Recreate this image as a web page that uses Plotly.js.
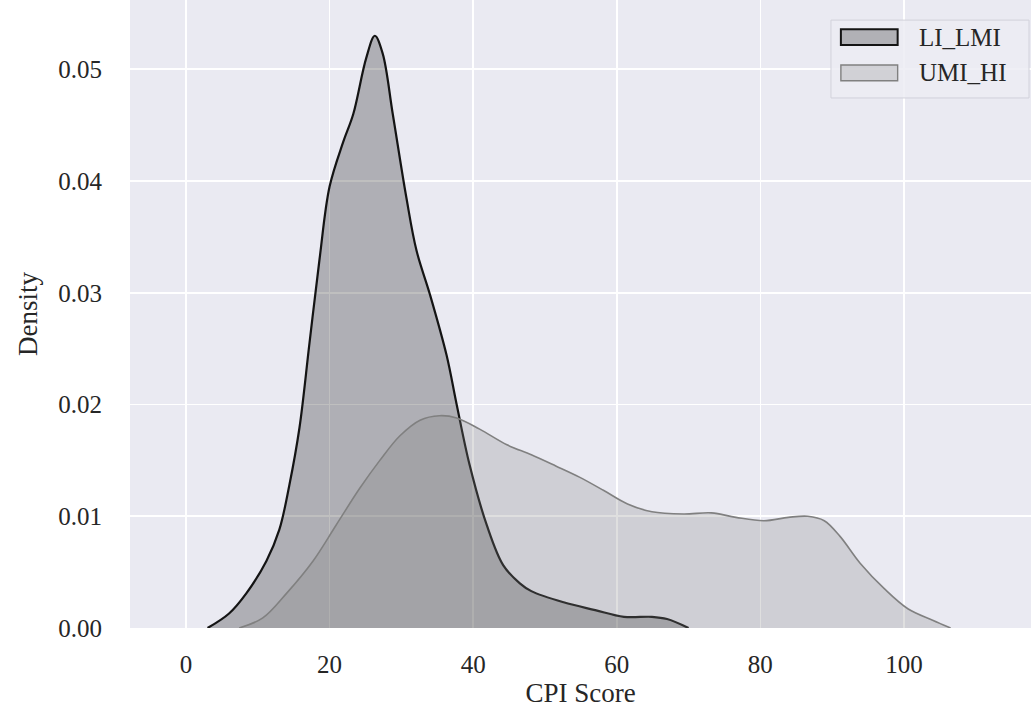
<!DOCTYPE html>
<html>
<head>
<meta charset="utf-8">
<script src="https://cdn.plot.ly/plotly-3.0.1.min.js"></script>
<style>html,body{margin:0;padding:0;background:#fff;}#chart{width:1032px;height:711px;}</style>
</head>
<body>
<div id="chart"></div>
<script>
// LI_LMI density curve (CPI score, density)
const liX = [3.0, 6.0, 8.4, 11.2, 13.0, 14.4, 15.8, 17.2, 18.6, 20.0, 21.9, 23.3, 25.1, 26.3, 27.4, 28.8, 30.7, 32.1, 34.0, 36.3, 37.7, 39.5, 41.9, 44.2, 46.5, 48.1, 52.6, 57.0, 61.0, 64.9, 67.0, 70.0];
const liY = [0, 0.0013, 0.0031, 0.006, 0.0088, 0.0128, 0.0179, 0.0255, 0.033, 0.0395, 0.0435, 0.046, 0.051, 0.053, 0.0514, 0.046, 0.0385, 0.0338, 0.0298, 0.0244, 0.020, 0.0146, 0.0092, 0.0056, 0.004, 0.0033, 0.0023, 0.0016, 0.001, 0.001, 0.0008, 0];
// UMI_HI density curve
const umiX = [7.4, 10.7, 14.0, 17.7, 20.9, 24.2, 27.0, 29.8, 32.6, 35.3, 37.7, 40.9, 44.7, 48.1, 51.5, 54.8, 58.2, 61.5, 64.9, 69.3, 73.2, 76.6, 80.5, 83.9, 86.6, 88.9, 91.1, 93.9, 97.3, 100.6, 104.0, 106.5];
const umiY = [0, 0.0009, 0.0031, 0.006, 0.0092, 0.0125, 0.015, 0.0172, 0.0186, 0.019, 0.0188, 0.0178, 0.0164, 0.0155, 0.0145, 0.0135, 0.0123, 0.0111, 0.0104, 0.0102, 0.0103, 0.0099, 0.0096, 0.0099, 0.0100, 0.0096, 0.0082, 0.0058, 0.0035, 0.0017, 0.0007, 0];
const seriesNames = ["LI_LMI", "UMI_HI"];
const xTicks = [0, 20, 40, 60, 80, 100];
const yTicks = [0, 0.01, 0.02, 0.03, 0.04, 0.05];

const font = "Liberation Serif, Times New Roman, serif";
const lineColors = ["#141414", "#808080"];
const fillColors = ["rgba(0,0,0,0.25)", "rgba(128,128,128,0.25)"];
const lineWidths = [2.2, 1.6];

const traces = [
  {x: liX, y: liY, name: seriesNames[0], type: "scatter", mode: "lines",
   line: {color: lineColors[0], width: lineWidths[0], shape: "spline", smoothing: 1},
   fill: "tozeroy", fillcolor: fillColors[0]},
  {x: umiX, y: umiY, name: seriesNames[1], type: "scatter", mode: "lines",
   line: {color: lineColors[1], width: lineWidths[1], shape: "spline", smoothing: 1},
   fill: "tozeroy", fillcolor: fillColors[1]}
];

// custom matplotlib-style legend (paper coordinates)
const shapes = [
  {type: "rect", xref: "paper", yref: "paper", x0: 0.778, x1: 0.9978, y0: 0.844, y1: 0.968,
   fillcolor: "rgba(236,236,243,0.85)", line: {color: "#D2D2DA", width: 1}, layer: "above"}
];
const annotations = [];
const rowY = [0.941, 0.884];
seriesNames.forEach((nm, i) => {
  shapes.push({type: "rect", xref: "paper", yref: "paper", x0: 0.789, x1: 0.852,
    y0: rowY[i] - 0.0125, y1: rowY[i] + 0.0125, fillcolor: fillColors[i],
    line: {color: lineColors[i], width: i === 0 ? 2 : 1.4}, layer: "above"});
  annotations.push({xref: "paper", yref: "paper", x: 0.874, y: rowY[i], xanchor: "left", yanchor: "middle",
    text: nm, showarrow: false, font: {family: font, size: 25, color: "#262626"}});
});

const layout = {
  width: 1032, height: 711,
  margin: {l: 130, r: 1, t: 0, b: 83},
  paper_bgcolor: "#ffffff",
  plot_bgcolor: "#EAEAF2",
  font: {family: font, color: "#262626", size: 25},
  showlegend: false,
  shapes: shapes,
  annotations: annotations,
  xaxis: {range: [-7.8, 117.7], tickvals: xTicks, ticktext: xTicks.map(String),
          showgrid: true, gridcolor: "#ffffff", gridwidth: 1.6, zeroline: false,
          showline: false, ticks: "outside", ticklen: 14, tickcolor: "rgba(0,0,0,0)",
          tickfont: {family: font, size: 25, color: "#262626"},
          title: {text: "CPI Score", font: {family: font, size: 27, color: "#262626"}, standoff: 2}},
  yaxis: {range: [0, 0.0562], tickvals: yTicks, tickformat: ".2f",
          showgrid: true, gridcolor: "#ffffff", gridwidth: 1.6, zeroline: false,
          showline: false, ticks: "outside", ticklen: 22, tickcolor: "rgba(0,0,0,0)",
          tickfont: {family: font, size: 25, color: "#262626"},
          title: {text: "Density", font: {family: font, size: 27, color: "#262626"}, standoff: 12}}
};
Plotly.newPlot("chart", traces, layout, {displayModeBar: false, staticPlot: true});
</script>
</body>
</html>
